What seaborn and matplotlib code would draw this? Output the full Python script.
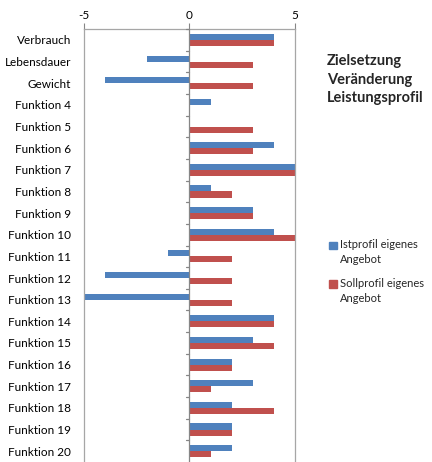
import matplotlib
matplotlib.use("Agg")
import matplotlib.pyplot as plt
import matplotlib.patches as mpatches
from matplotlib.legend_handler import HandlerPatch
import seaborn as sns
import pandas as pd

# categories, top to bottom
categories = ["Verbrauch", "Lebensdauer", "Gewicht"] + [f"Funktion {i}" for i in range(4, 21)]

# series values
ist_values = [4, -2, -4, 1, 0, 4, 5, 1, 3, 4, -1, -4, -5, 4, 3, 2, 3, 2, 2, 2]
soll_values = [4, 3, 3, 0, 3, 3, 5, 2, 3, 5, 2, 2, 2, 4, 4, 2, 1, 4, 2, 1]

series_names = ["Istprofil eigenes\nAngebot", "Sollprofil eigenes\nAngebot"]
colors = ["#4F81BD", "#C0504D"]
x_ticks = [-5, 0, 5]

df = pd.DataFrame({
    "Kategorie": categories * 2,
    "Profil": [series_names[0]] * len(categories) + [series_names[1]] * len(categories),
    "Wert": ist_values + soll_values,
})

sns.set_style("white")
plt.rcParams["font.family"] = ["Lato", "DejaVu Sans"]

fig = plt.figure(figsize=(4.32, 4.62), dpi=100)
ax = fig.add_axes([0.194, 0.0, 0.489, 0.937])

sns.barplot(data=df, y="Kategorie", x="Wert", hue="Profil", orient="h",
            palette=colors, saturation=1, width=0.56, dodge=True,
            linewidth=0, legend=False, ax=ax)

ax.set_xlim(-5, 5)
ax.set_ylim(len(categories) - 0.5, -0.5)
ax.set_xlabel("")
ax.set_ylabel("")

# x axis on top
ax.xaxis.tick_top()
ax.set_xticks(x_ticks)
ax.set_xticklabels([str(t) for t in x_ticks])
ax.tick_params(axis="x", direction="out", length=4, color="#868686",
               labelsize=8.5, pad=2, labelcolor="black")
ax.tick_params(axis="y", length=0, labelsize=8.5, pad=9, labelcolor="black")

# gridlines / frame
for side in ["top", "left", "right"]:
    ax.spines[side].set_color("#A6A6A6")
    ax.spines[side].set_linewidth(0.9)
ax.spines["bottom"].set_visible(False)

# category axis at zero with small ticks between categories
ax.axvline(0, color="#868686", linewidth=0.9, zorder=3)
for i in range(len(categories)):
    ax.plot([-0.15, 0], [i - 0.5, i - 0.5], color="#868686", linewidth=0.9,
            zorder=3, clip_on=False)

# title
fig.text(0.757, 0.884, "Zielsetzung\nVeränderung\nLeistungsprofil",
         fontsize=10.5, fontweight="bold", ha="left", va="top", linespacing=1.45)


# legend square next to the first line of the two-line label
def top_square(legend, orig_handle, xdescent, ydescent, width, height, fontsize):
    return mpatches.Rectangle((-xdescent, -ydescent + 0.62 * fontsize), width, height)


handles = [mpatches.Patch(color=c, label=n) for c, n in zip(colors, series_names)]
leg = fig.legend(handles=handles, loc="upper left", bbox_to_anchor=(0.752, 0.493),
                 frameon=False, fontsize=8, handlelength=0.7, handleheight=0.7,
                 handletextpad=0.3, labelspacing=1.15, borderaxespad=0,
                 handler_map={mpatches.Patch: HandlerPatch(patch_func=top_square)})
for t in leg.get_texts():
    t.set_linespacing(1.45)

fig.savefig("out.png", dpi=100)
